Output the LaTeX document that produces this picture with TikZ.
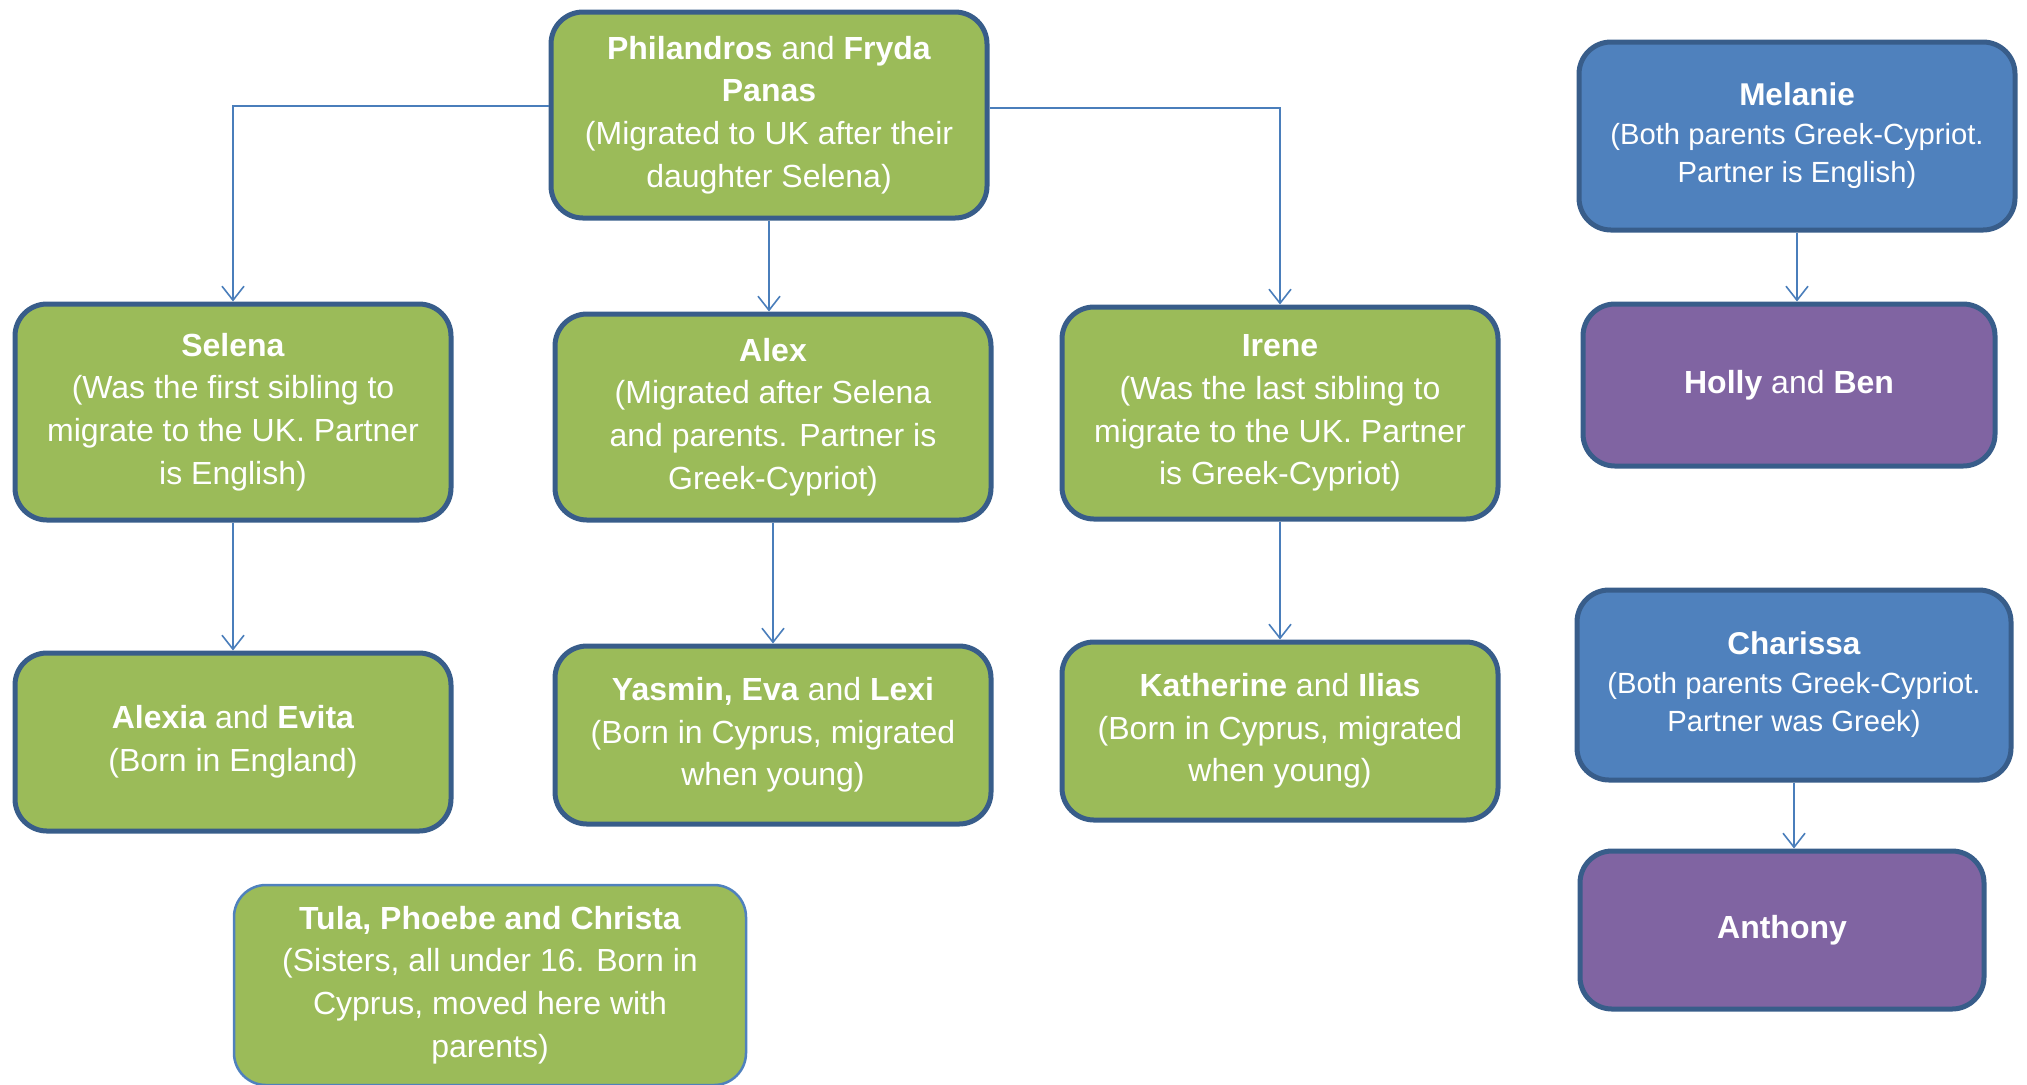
\documentclass[tikz,border=0pt]{standalone}
\usepackage{fontspec}
\setmainfont{Liberation Sans}
\usetikzlibrary{arrows.meta}

\definecolor{leaf}{HTML}{9BBB59}
\definecolor{sky}{HTML}{4F81BD}
\definecolor{plum}{HTML}{8064A2}
\definecolor{rim}{HTML}{385D8A}
\definecolor{wire}{HTML}{4A7EBB}

\newcommand{\headline}[1]{{\fontsize{15.75pt}{19.5pt}\selectfont\textbf{#1}}}

\begin{document}
\begin{tikzpicture}[x=0.5pt,y=-0.5pt,
  box/.style={draw=rim,line width=2.5pt,rounded corners=16pt,text=white,align=center,inner sep=0pt},
  kin/.style={box,fill=leaf,font=\fontsize{16pt}{21.35pt}\selectfont},
  other/.style={box,fill=sky,font=\fontsize{14.6pt}{19.25pt}\selectfont},
  child/.style={box,fill=plum,font=\fontsize{16pt}{21.35pt}\selectfont},
  link/.style={draw=wire,line width=0.8pt,-{Straight Barb[length=7pt,width=11pt]}}]

\useasboundingbox (0,0) rectangle (2027,1084);

% family tree
\node[kin,minimum width=218pt,minimum height=103pt] (parents) at (769,115)
  {\textbf{Philandros} and \textbf{Fryda}\\\textbf{Panas}\\(Migrated to UK after their\\daughter Selena)};
\node[kin,minimum width=218pt,minimum height=108pt] (selena) at (233,412)
  {\textbf{Selena}\\(Was the first sibling to\\migrate to the UK. Partner\\is English)};
\node[kin,minimum width=218pt,minimum height=103pt] (alex) at (773,417)
  {\textbf{Alex}\\(Migrated after Selena\\and parents. Partner is\\Greek-Cypriot)};
\node[kin,minimum width=218pt,minimum height=106pt] (irene) at (1280,413)
  {\textbf{Irene}\\(Was the last sibling to\\migrate to the UK. Partner\\is Greek-Cypriot)};
\node[kin,minimum width=218pt,minimum height=89pt] (alexia) at (233,742)
  {\textbf{Alexia} and \textbf{Evita}\\(Born in England)};
\node[kin,minimum width=218pt,minimum height=89pt] (yasmin) at (773,735)
  {\textbf{Yasmin, Eva} and \textbf{Lexi}\\(Born in Cyprus, migrated\\when young)};
\node[kin,minimum width=218pt,minimum height=89pt] (katherine) at (1280,731)
  {\textbf{Katherine} and \textbf{Ilias}\\(Born in Cyprus, migrated\\when young)};
\node[kin,draw=sky,line width=1.25pt,minimum width=256pt,minimum height=100pt] (tula) at (490,985)
  {\textbf{Tula, Phoebe and Christa}\\(Sisters, all under 16. Born in\\Cyprus, moved here with\\parents)};

% other participants
\node[other,minimum width=218pt,minimum height=94pt] (melanie) at (1797,136)
  {\headline{Melanie}\\(Both parents Greek-Cypriot.\\Partner is English)};
\node[child,minimum width=206pt,minimum height=81pt] (holly) at (1789,385)
  {\textbf{Holly} and \textbf{Ben}};
\node[other,minimum width=217pt,minimum height=95pt] (charissa) at (1794,685)
  {\headline{Charissa}\\(Both parents Greek-Cypriot.\\Partner was Greek)};
\node[child,minimum width=202pt,minimum height=79pt] (anthony) at (1782,930)
  {\textbf{Anthony}};

\draw[link] ([yshift=4.5pt]parents.west) -| (selena.north);
\draw[link] ([yshift=3.5pt]parents.east) -| (irene.north);
\draw[link] (parents.south) -- (parents.south |- alex.north);
\draw[link] (selena.south) -- (alexia.north);
\draw[link] (alex.south) -- (yasmin.north);
\draw[link] (irene.south) -- (katherine.north);
\draw[link] (melanie.south) -- (melanie.south |- holly.north);
\draw[link] (charissa.south) -- (charissa.south |- anthony.north);

\end{tikzpicture}
\end{document}
